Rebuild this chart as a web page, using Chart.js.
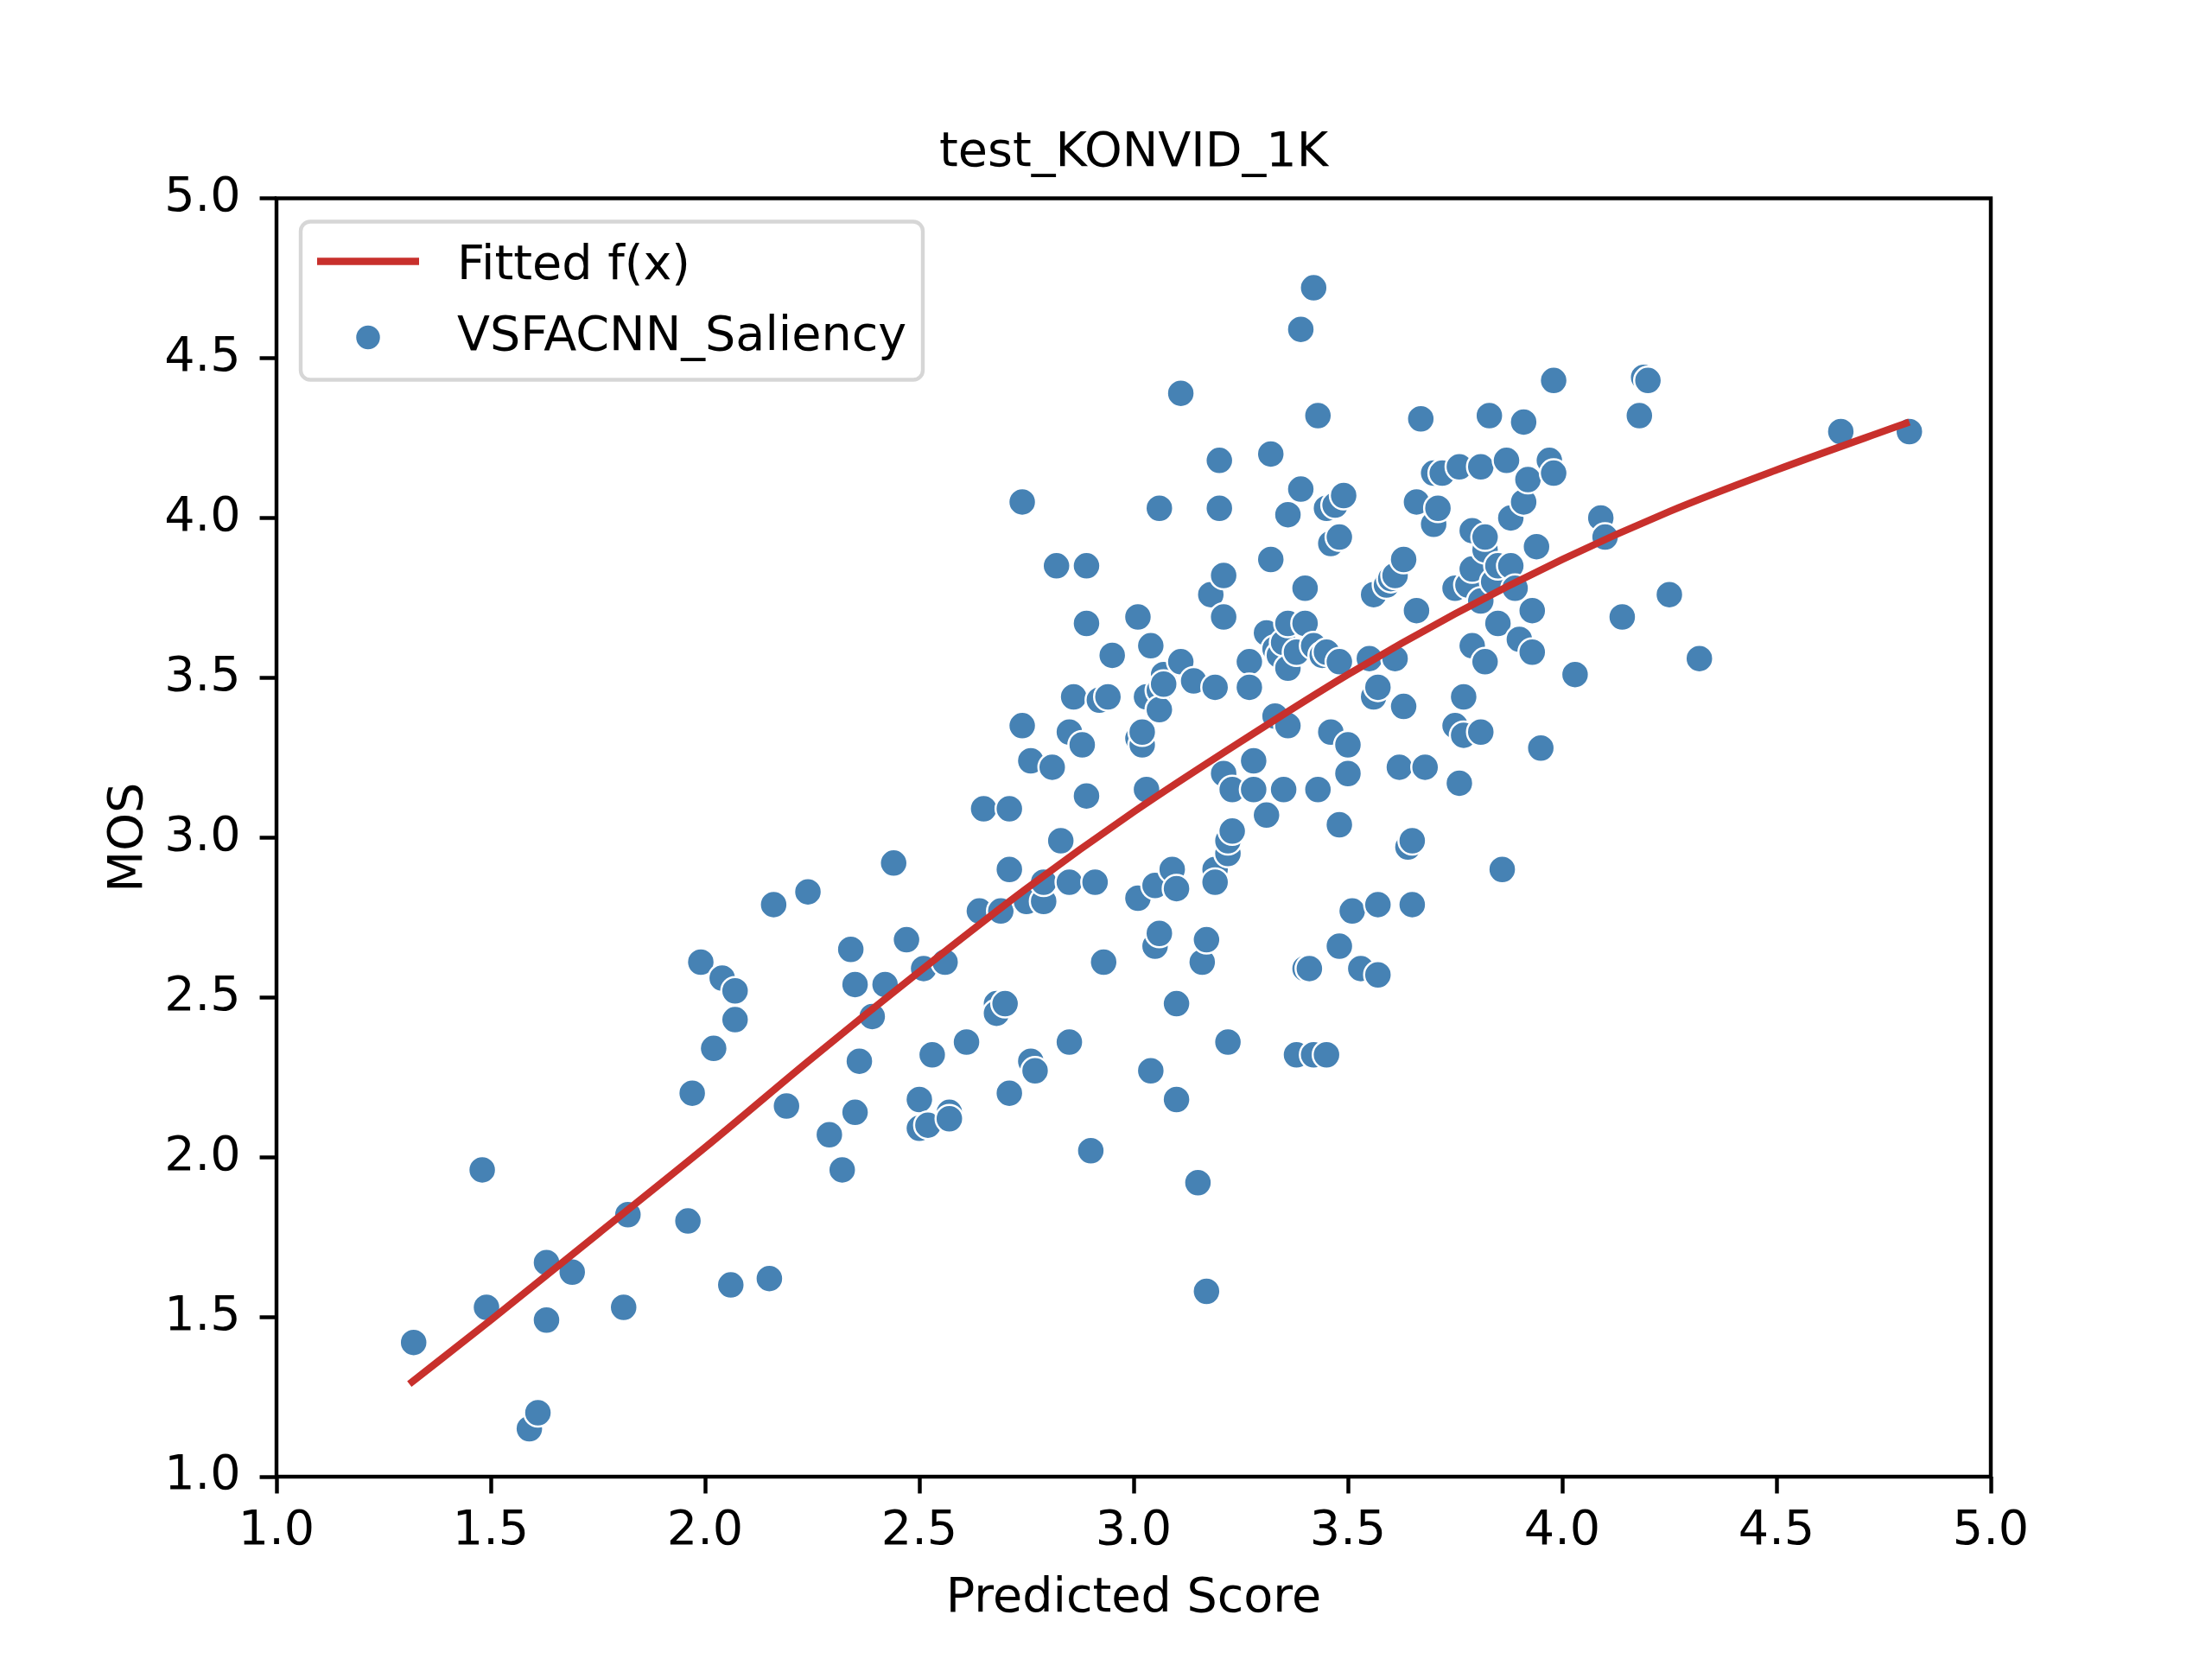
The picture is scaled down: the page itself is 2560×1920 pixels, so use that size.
<!DOCTYPE html>
<html>
<head>
<meta charset="utf-8">
<script src="https://cdn.jsdelivr.net/npm/chart.js@4.4.1/dist/chart.umd.min.js"></script>
<style>
  html,body{margin:0;padding:0;background:#fff}
  #wrap{width:2560px;height:1920px}
</style>
</head>
<body>
<div id="wrap"><canvas id="c" width="2560" height="1920" style="width:2560px;height:1920px"></canvas></div>
<script>
// predicted score (x) and MOS (y) per video
const predScore=[1.32,1.48,1.49,1.59,1.61,1.63,1.63,1.69,1.81,1.82,1.96,1.97,1.99,2.02,2.04,2.06,2.07,2.07,2.15,2.16,2.19,2.24,2.29,2.32,2.34,2.35,2.35,2.36,2.39,2.42,2.44,2.47,2.50,2.50,2.51,2.52,2.53,2.56,2.57,2.57,2.61,2.64,2.65,2.68,2.68,2.69,2.70,2.71,2.71,2.71,2.74,2.74,2.75,2.76,2.76,2.77,2.79,2.79,2.81,2.82,2.83,2.85,2.85,2.85,2.86,2.88,2.89,2.89,2.89,2.90,2.91,2.92,2.93,2.94,2.95,3.01,3.01,3.01,3.02,3.02,3.03,3.03,3.04,3.04,3.05,3.05,3.06,3.06,3.06,3.06,3.07,3.07,3.09,3.10,3.10,3.10,3.11,3.11,3.14,3.15,3.16,3.17,3.17,3.18,3.19,3.19,3.19,3.20,3.20,3.21,3.21,3.21,3.22,3.22,3.22,3.23,3.23,3.27,3.27,3.28,3.28,3.31,3.31,3.32,3.32,3.33,3.33,3.34,3.35,3.35,3.36,3.36,3.36,3.36,3.38,3.38,3.39,3.39,3.40,3.40,3.40,3.41,3.42,3.42,3.42,3.43,3.43,3.44,3.45,3.45,3.45,3.46,3.46,3.47,3.48,3.48,3.48,3.48,3.49,3.50,3.50,3.51,3.53,3.55,3.56,3.56,3.57,3.57,3.57,3.59,3.60,3.61,3.61,3.62,3.63,3.63,3.64,3.65,3.65,3.66,3.66,3.67,3.68,3.70,3.70,3.71,3.72,3.75,3.75,3.76,3.76,3.77,3.77,3.78,3.79,3.79,3.79,3.81,3.81,3.81,3.82,3.82,3.82,3.83,3.84,3.85,3.85,3.86,3.87,3.88,3.88,3.89,3.90,3.91,3.91,3.92,3.93,3.93,3.94,3.95,3.97,3.98,3.98,4.03,4.09,4.10,4.14,4.18,4.19,4.20,4.25,4.32,4.65,4.81];
const mosValues=[1.42,1.96,1.53,1.15,1.20,1.67,1.49,1.64,1.53,1.82,1.80,2.20,2.61,2.34,2.56,1.60,2.43,2.52,1.62,2.79,2.16,2.83,2.07,1.96,2.65,2.54,2.14,2.30,2.44,2.54,2.92,2.68,2.18,2.09,2.59,2.10,2.32,2.61,2.14,2.12,2.36,2.77,3.09,2.48,2.45,2.77,2.48,3.09,2.90,2.20,3.35,4.05,2.80,2.30,3.24,2.27,2.80,2.86,3.22,3.85,2.99,2.86,2.36,3.33,3.44,3.29,3.85,3.67,3.13,2.02,2.86,3.43,2.61,3.44,3.57,3.31,3.69,2.81,3.29,3.33,3.44,3.15,2.27,3.60,2.85,2.66,2.70,4.03,3.46,3.40,3.51,3.48,2.90,2.48,2.18,2.84,4.39,3.55,3.49,1.92,2.61,1.58,2.68,3.76,2.90,2.86,3.47,4.18,4.03,3.69,3.82,3.20,2.95,2.99,2.36,3.15,3.02,3.55,3.47,3.24,3.15,3.07,3.64,4.20,3.87,3.59,3.38,3.57,3.61,3.15,3.35,3.53,4.01,3.67,3.58,2.32,4.09,4.59,3.78,3.67,2.59,2.59,4.72,3.60,2.32,3.15,4.32,3.57,4.03,2.32,3.58,3.33,3.92,4.04,3.94,3.55,2.66,3.04,4.07,3.29,3.20,2.77,2.59,3.56,3.76,3.44,3.47,2.57,2.79,3.79,3.81,3.56,3.82,3.22,3.87,3.41,2.97,2.99,2.79,4.05,3.71,4.31,3.22,3.98,4.14,4.03,4.14,3.35,3.78,4.16,3.17,3.44,3.32,3.79,3.96,3.84,3.60,3.74,3.33,4.16,3.90,3.94,3.55,4.32,3.80,3.85,3.67,2.90,4.18,3.85,4.00,3.78,3.62,4.30,4.05,4.12,3.71,3.58,3.91,3.28,4.18,4.43,4.14,3.51,4.00,3.94,3.69,4.32,4.44,4.43,3.76,3.56,4.27,4.27];
// fitted logistic curve f(x)
const fitScore=[1.31,1.5,1.75,2.0,2.25,2.5,2.75,3.0,3.25,3.5,3.75,4.0,4.25,4.5,4.81];
const fitMos=[1.29,1.49,1.76,2.03,2.31,2.58,2.84,3.08,3.30,3.51,3.70,3.87,4.02,4.15,4.30];
const tickValues=[1.0,1.5,2.0,2.5,3.0,3.5,4.0,4.5,5.0];

const PT=400/72;           // matplotlib points -> px at dpi 400
const FONT='"DejaVu Sans", sans-serif';
const BLUE='#4682b4', RED='#c8302c';

const frameAndLegend={
  id:'frameAndLegend',
  afterDraw(chart){
    const ctx=chart.ctx, a=chart.chartArea;
    ctx.save();
    // spines
    ctx.strokeStyle='#000';ctx.lineWidth=0.8*PT;
    ctx.strokeRect(a.left,a.top,a.right-a.left,a.bottom-a.top);
    // legend frame
    const lx=a.left+28, ly=a.top+27, lw=720, lh=183, r=11;
    ctx.beginPath();
    ctx.roundRect(lx,ly,lw,lh,r);
    ctx.fillStyle='rgba(255,255,255,0.8)';ctx.fill();
    ctx.strokeStyle='#d6d6d6';ctx.lineWidth=4.4;ctx.stroke();
    const ds=chart.data.datasets;
    // line handle
    ctx.strokeStyle=ds[0].borderColor;ctx.lineWidth=1.5*PT;ctx.lineCap='butt';
    ctx.beginPath();ctx.moveTo(lx+19,ly+46);ctx.lineTo(lx+137,ly+46);ctx.stroke();
    // marker handle
    ctx.beginPath();ctx.arc(lx+78,ly+134,15,0,Math.PI*2);
    ctx.fillStyle=ds[1].backgroundColor;ctx.fill();
    ctx.strokeStyle='#fff';ctx.lineWidth=2.5;ctx.stroke();
    ctx.fillStyle='#000';ctx.font='55.6px '+FONT;ctx.textBaseline='alphabetic';ctx.textAlign='left';
    ctx.fillText(ds[0].label,lx+181,ly+66);
    ctx.fillText(ds[1].label,lx+181,ly+148);
    ctx.restore();
  }
};

const axisTick={display:true,drawOnChartArea:false,drawTicks:true,tickLength:3.5*PT,tickWidth:0.8*PT,tickColor:'#000'};
const tickFont={size:55.6,family:FONT};

new Chart(document.getElementById('c'),{
  type:'scatter',
  data:{datasets:[
    {label:'Fitted f(x)',type:'line',data:fitScore.map((x,i)=>({x,y:fitMos[i]})),borderColor:RED,borderWidth:1.5*PT,
     pointRadius:0,cubicInterpolationMode:'monotone',fill:false,order:0},
    {label:'VSFACNN_Saliency',data:predScore.map((x,i)=>({x,y:mosValues[i]})),backgroundColor:BLUE,borderColor:'#fff',
     borderWidth:2.5,pointRadius:16,pointHoverRadius:16,order:1}
  ]},
  options:{
    responsive:false,devicePixelRatio:1,animation:false,
    layout:{padding:{left:0,right:256,top:0,bottom:0}},
    plugins:{
      legend:{display:false},tooltip:{enabled:false},
      title:{display:true,fullSize:false,text:'test_KONVID_1K',color:'#000',font:{size:55.6,family:FONT,weight:'normal'},
             padding:{top:144,bottom:18.8}}
    },
    scales:{
      x:{type:'linear',min:1,max:5,afterBuildTicks:s=>{s.ticks=tickValues.map(v=>({value:v}));},
         ticks:{color:'#000',font:tickFont,padding:11,maxRotation:0,callback:v=>v.toFixed(1)},
         grid:axisTick,border:{display:false},
         title:{display:true,text:'Predicted Score',color:'#000',font:tickFont,padding:{top:0,bottom:36}},
         afterFit:s=>{s.height=211;}},
      y:{type:'linear',min:1,max:5,afterBuildTicks:s=>{s.ticks=tickValues.map(v=>({value:v}));},
         ticks:{color:'#000',font:tickFont,padding:22,callback:v=>v.toFixed(1)},
         grid:axisTick,border:{display:false},
         title:{display:true,text:'MOS',color:'#000',font:tickFont,padding:{top:116,bottom:0}},
         afterFit:s=>{s.width=320;}}
    }
  },
  plugins:[frameAndLegend]
});
</script>
</body>
</html>
